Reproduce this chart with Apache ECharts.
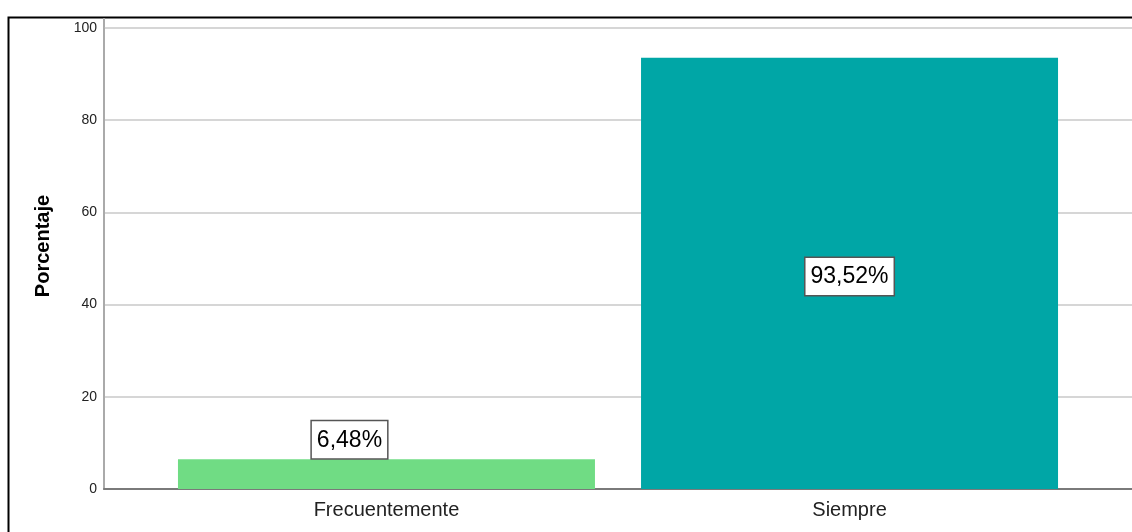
<!DOCTYPE html>
<html>
<head>
<meta charset="utf-8">
<script src="https://cdn.jsdelivr.net/npm/echarts@6/dist/echarts.min.js"></script>
<style>
  html, body { margin: 0; padding: 0; background: #fff; }
  #chart { width: 1132px; height: 532px; }
</style>
</head>
<body>
<div id="chart"></div>
<script>
// Response categories and their share of respondents (%)
const categories = ['Frecuentemente', 'Siempre'];
const percentages = [6.48, 93.52];
const barColors = ['#70DC84', '#00A6A6'];
const yTicks = [0, 20, 40, 60, 80, 100];
const yTitle = 'Porcentaje';

const fmtPct = v => v.toFixed(2).replace('.', ',') + '%';
const FONT = 'Liberation Sans, Arial, sans-serif';

const chart = echarts.init(document.getElementById('chart'));

const barData = percentages.map((v, i) => ({
  value: [i, v],
  itemStyle: { color: barColors[i] },
  label: i === 0
    ? { position: 'top', distance: 1, offset: [-37, 0] }
    : { position: 'inside', offset: [0, 3] }
}));

chart.setOption({
  animation: false,
  backgroundColor: '#fff',
  grid: { left: 104, right: 0, top: 28, bottom: 43 },
  xAxis: {
    type: 'value',
    min: -0.61,
    max: 1.61,
    splitLine: { show: false },
    axisTick: { show: false },
    axisLine: { show: true, onZero: false, lineStyle: { color: '#7a7a7a', width: 2 } },
    axisLabel: {
      customValues: categories.map((c, i) => i),
      formatter: v => categories[Math.round(v)] || '',
      color: '#222',
      fontFamily: FONT,
      fontSize: 20,
      margin: 11
    }
  },
  yAxis: {
    type: 'value',
    min: yTicks[0],
    max: yTicks[yTicks.length - 1],
    interval: 20,
    axisLine: { show: true, onZero: false, lineStyle: { color: '#aaaaaa', width: 2 } },
    axisTick: { show: false },
    splitLine: { show: true, lineStyle: { color: '#c8c8c8', width: 1.5 } },
    axisLabel: {
      color: '#222',
      fontFamily: FONT,
      fontSize: 14,
      margin: 7
    }
  },
  series: [{
    type: 'bar',
    barWidth: 417,
    data: barData,
    label: {
      show: true,
      formatter: p => fmtPct(p.value[1]),
      color: '#000',
      fontFamily: FONT,
      fontSize: 23,
      lineHeight: 26,
      backgroundColor: '#fff',
      borderColor: '#555',
      borderWidth: 1.5,
      padding: [7, 5, 4, 5]
    }
  }],
  graphic: [
    {
      type: 'rect',
      shape: { x: 8.5, y: 17.5, width: 1200, height: 600 },
      style: { fill: 'none', stroke: '#000', lineWidth: 2 },
      silent: true
    },
    {
      type: 'line',
      shape: { x1: 104, y1: 18, x2: 104, y2: 29 },
      style: { stroke: '#aaaaaa', lineWidth: 2 },
      silent: true
    },
    {
      type: 'text',
      x: 43,
      y: 246,
      rotation: Math.PI / 2,
      style: {
        text: yTitle,
        fill: '#000',
        font: 'bold 20px ' + FONT,
        textAlign: 'center',
        textVerticalAlign: 'middle'
      },
      silent: true
    }
  ]
});
</script>
</body>
</html>
